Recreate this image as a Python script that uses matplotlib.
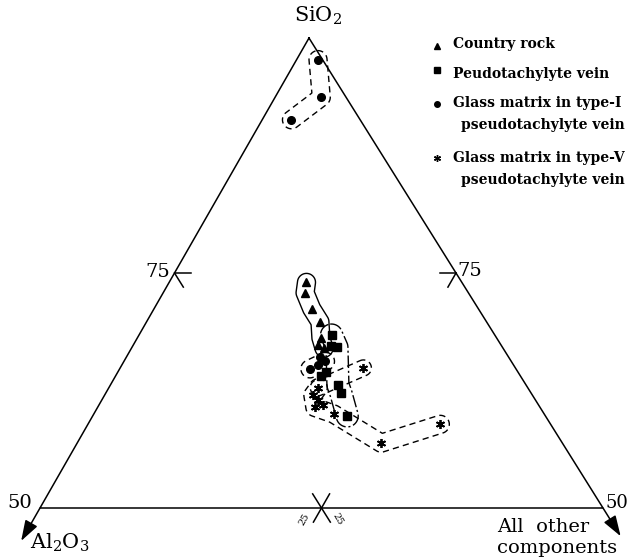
import numpy as np
import matplotlib.pyplot as plt

plt.rcParams['font.family'] = ['DejaVu Serif']
plt.rcParams['mathtext.fontset'] = 'dejavuserif'

# compositions (wt %): SiO2 and Al2O3, the rest is "all other components"
country_sio2 = [74.0, 72.9, 71.2, 69.8, 68.1, 67.0, 67.3]
country_al2o3 = [13.8, 14.5, 14.8, 14.8, 15.6, 15.9, 16.3]

vein_sio2 = [68.4, 67.2, 67.1, 64.5, 64.0, 63.1, 62.2, 59.8]
vein_al2o3 = [14.5, 15.2, 14.7, 17.0, 17.7, 16.7, 16.9, 17.6]

glass1_sio2 = [97.7, 93.7, 91.3, 64.8, 65.2, 65.6, 66.1]
glass1_al2o3 = [0.4, 2.2, 6.1, 18.3, 17.4, 16.5, 16.7]

glass5_sio2 = [62.8, 62.0, 61.5, 61.0, 60.7, 60.0, 64.9, 58.9, 56.9]
glass5_al2o3 = [18.6, 19.5, 19.3, 19.1, 20.0, 18.7, 13.5, 9.8, 16.1]

# corners of the SiO2 50-100 sub-triangle on the canvas
TOP = (309, 38)
LEFT = (40, 508)
RIGHT = (603, 508)


def tern(sio2, al2o3):
    sio2 = np.asarray(sio2, float)
    al2o3 = np.asarray(al2o3, float)
    rest = 100 - sio2 - al2o3
    wt, wl, wr = (sio2 - 50) / 50, al2o3 / 50, rest / 50
    x = wt * TOP[0] + wl * LEFT[0] + wr * RIGHT[0]
    y = wt * TOP[1] + wl * LEFT[1] + wr * RIGHT[1]
    return x, y


fig = plt.figure(figsize=(6.31, 5.59), dpi=100)
ax = fig.add_axes([0, 0, 1, 1])
ax.set_xlim(0, 631)
ax.set_ylim(559, 0)
ax.axis('off')

K = 'black'
LW = 1.1

# frame
fx, fy = tern([100, 50, 50, 100], [0, 50, 0, 0])
ax.plot(fx, fy, color=K, lw=LW, solid_joinstyle='miter')

# arrows past the lower corners
arrow = dict(arrowstyle='-|>,head_length=0.9,head_width=0.3', color=K, lw=LW,
             mutation_scale=14, shrinkA=0, shrinkB=0)
ax.annotate('', xy=tern(46.5, 53.5), xytext=tern(50, 50), arrowprops=arrow)
ax.annotate('', xy=tern(47, 0), xytext=tern(50, 0), arrowprops=arrow)

# 75 and 25 tick marks
ticks = [
    ((75, 25), (75, 23.5)), ((75, 25), (73.5, 25)),
    ((75, 0), (75, 1.4)), ((75, 0), (73.5, 1.5)),
    ((51.5, 25), (48.5, 25)), ((51.5, 23.5), (48.5, 26.5)),
]
for (s0, a0), (s1, a1) in ticks:
    tx, ty = tern([s0, s1], [a0, a1])
    ax.plot(tx, ty, color=K, lw=LW)

# envelopes drawn as iso-distance lines around paths through the points
gx, gy = np.meshgrid(np.arange(250, 480, 0.5), np.arange(30, 470, 0.5))


def path_dist(px, py):
    d = np.full(gx.shape, np.inf)
    for x0, y0, x1, y1 in zip(px[:-1], py[:-1], px[1:], py[1:]):
        dx, dy = x1 - x0, y1 - y0
        t = np.clip(((gx - x0) * dx + (gy - y0) * dy) / (dx * dx + dy * dy), 0, 1)
        d = np.minimum(d, np.hypot(gx - x0 - t * dx, gy - y0 - t * dy))
    return d


dash = (0, (4.5, 3))
envelopes = [
    (country_sio2, country_al2o3, [0, 1, 2, 3, 4, 5], 9, 'solid'),
    (vein_sio2, vein_al2o3, [0, 2, 5, 6, 7], 11, (0, (9, 2, 1.5, 2))),
    (glass1_sio2, glass1_al2o3, [0, 1, 2], 9, dash),
    (glass1_sio2, glass1_al2o3, [3, 4, 5], 9, dash),
    (glass5_sio2, glass5_al2o3, [0, 1, 4, 5, 8, 7], 9, dash),
    (glass5_sio2, glass5_al2o3, [0, 6], 8, dash),
]
for s, a, idx, r, ls in envelopes:
    px, py = tern([s[i] for i in idx], [a[i] for i in idx])
    ax.contour(gx, gy, path_dist(px, py), levels=[r], colors=K,
               linewidths=1.0, linestyles=[ls])

# data points
x, y = tern(country_sio2, country_al2o3)
ax.plot(x, y, '^', color=K, ms=5.5, ls='none')
x, y = tern(vein_sio2, vein_al2o3)
ax.plot(x, y, 's', color=K, ms=6, ls='none')
x, y = tern(glass1_sio2, glass1_al2o3)
ax.plot(x, y, 'o', color=K, ms=5.5, ls='none')
x, y = tern(glass5_sio2, glass5_al2o3)
ax.plot(x, y, marker=(6, 2, 0), color=K, ms=6.5, mew=1.3, ls='none')

# axis labels
ax.text(318, 16, 'SiO$_2$', fontsize=15, ha='center', va='center')
ax.text(30, 543, 'Al$_2$O$_3$', fontsize=15, ha='left', va='center')
ax.text(497, 527, 'All  other', fontsize=14, ha='left', va='center')
ax.text(497, 548, 'components', fontsize=14, ha='left', va='center')
ax.text(158, 272, '75', fontsize=14, ha='center', va='center')
ax.text(470, 271, '75', fontsize=14, ha='center', va='center')
ax.text(20, 503, '50', fontsize=14, ha='center', va='center')
ax.text(628, 503, '50', fontsize=13, ha='right', va='center')
ax.text(304, 519, '25', fontsize=7, rotation=60, ha='center', va='center')
ax.text(338, 519, '25', fontsize=7, rotation=-60, ha='center', va='center')

# key
key = [
    ('^', 4, {}, 46, ['Country rock'], 44),
    ('s', 4.5, {}, 70, ['Peudotachylyte vein'], 74),
    ('o', 4, {}, 104, ['Glass matrix in type-I', 'pseudotachylyte vein'], 103),
    ((6, 2, 0), 5, {'mew': 1.0}, 158, ['Glass matrix in type-V', 'pseudotachylyte vein'], 158),
]
for mk, ms, extra, my, lines, ty in key:
    ax.plot([437], [my], marker=mk, ms=ms, color=K, ls='none', **extra)
    for i, line in enumerate(lines):
        ax.text(453 if i == 0 else 461, ty + 22 * i, line, fontsize=10,
                fontweight='bold', ha='left', va='center')

fig.savefig('out.png', dpi=100)
